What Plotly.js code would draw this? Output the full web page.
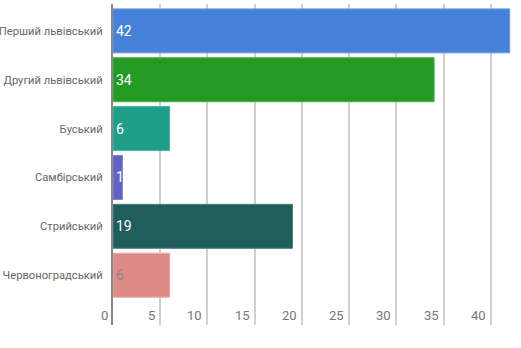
<!DOCTYPE html>
<html>
<head>
<meta charset="utf-8">
<script src="https://cdn.plot.ly/plotly-3.0.1.min.js"></script>
<style>html,body{margin:0;padding:0;background:#fff;}#chart{width:521px;height:348px;}</style>
</head>
<body>
<div id="chart"></div>
<script>
const categories = ["Перший львівський", "Другий львівський", "Буський", "Самбірський", "Стрийський", "Червоноградський"];
const values = [42, 34, 6, 1, 19, 6];
const barColors = ["#4680d8", "#229a24", "#1f9e89", "#6262c2", "#1f5e5b", "#de8a86"];
const lineColors = ["#6a9ae0", "#4ab04a", "#4ab4a0", "#8484d0", "#4a807c", "#e8a8a4"];
const textColors = ["#ffffff", "#ffffff", "#ffffff", "#ffffff", "#ffffff", "#888888"];
const xTicks = [0, 5, 10, 15, 20, 25, 30, 35, 40];

const font = "Roboto, 'Liberation Sans', sans-serif";

const trace = {
  type: "bar",
  orientation: "h",
  x: values,
  y: categories,
  width: 0.9,
  marker: {color: barColors, line: {color: lineColors, width: 1}},
  text: values.map(String),
  textposition: "inside",
  insidetextanchor: "start",
  constraintext: "none",
  textfont: {family: font, size: 14, color: textColors},
  hoverinfo: "none",
  cliponaxis: false
};

const tickAnnotations = xTicks.map(v => ({
  x: v, xref: "x",
  y: 0, yref: "paper",
  yanchor: "bottom", xanchor: "right",
  xshift: -3, yshift: 0,
  text: String(v),
  showarrow: false,
  font: {family: font, size: 13, color: "#777777"}
}));

const layout = {
  width: 521, height: 348,
  margin: {l: 113, r: 0, t: 4, b: 23},
  paper_bgcolor: "#ffffff",
  plot_bgcolor: "#ffffff",
  showlegend: false,
  font: {family: font, color: "#666666"},
  xaxis: {
    range: [0, 43.2],
    tickvals: xTicks,
    showgrid: true,
    gridcolor: "#d0d0d0",
    gridwidth: 2,
    zeroline: false,
    showline: false,
    ticks: "",
    showticklabels: false,
    fixedrange: true
  },
  yaxis: {
    type: "category",
    range: [6.02, -0.55],
    showgrid: false,
    zeroline: false,
    showline: true,
    linecolor: "#888888",
    linewidth: 2,
    ticks: "",
    ticklabelstandoff: 6,
    tickfont: {family: font, size: 11.2, color: "#666666"},
    fixedrange: true
  },
  annotations: tickAnnotations,
  bargap: 0.1
};

Plotly.newPlot("chart", [trace], layout, {displayModeBar: false, staticPlot: true});
</script>
</body>
</html>
